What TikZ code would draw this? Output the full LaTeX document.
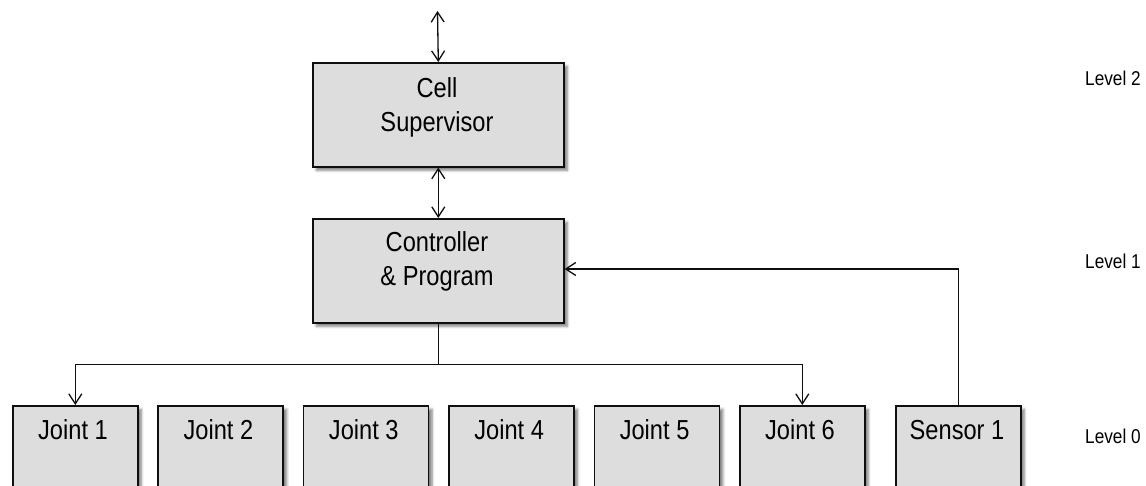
\documentclass[tikz,border=0pt]{standalone}
\usepackage{fontspec}
\setmainfont{Liberation Sans}[FakeStretch=0.86]
\usetikzlibrary{arrows.meta,shadows.blur}
\definecolor{boxfill}{RGB}{221,221,221}
\definecolor{inkline}{RGB}{15,15,15}
\tikzset{
  block/.style={draw=inkline, line width=1.6pt, fill=boxfill, inner sep=0pt,
    minimum width=125pt, minimum height=104pt, anchor=north west,
    blur shadow={shadow xshift=3.5pt, shadow yshift=-3.5pt, shadow blur radius=2.5pt, shadow blur steps=6, shadow opacity=50}},
  blocktext/.style={anchor=base, inner sep=0pt, font=\fontsize{27.5}{34}\selectfont},
  leveltext/.style={anchor=base west, inner sep=0pt, font=\fontsize{20}{24}\selectfont},
  link/.style={draw=inkline, line width=1.3pt},
  barb/.tip={Straight Barb[length=10pt, width=13pt]}
}
\begin{document}
\begin{tikzpicture}[x=1pt, y=-1pt]
\useasboundingbox (0,0) rectangle (1146,486);
\clip (0,0) rectangle (1146,486);

% upper levels
\node[block, minimum width=251pt] (cell) at (312,62) {};
\node[block, minimum width=251pt] (ctrl) at (312,218) {};
\node[blocktext] (cellA) at (437,97.3) {Cell};
\node[blocktext] (cellB) at (437,131.7) {Supervisor};
\node[blocktext] (ctrlA) at (437,252) {Controller};
\node[blocktext] (ctrlB) at (437,285.5) {\&~Program};

% level 0 devices
\foreach \i in {1,...,6}{
  \node[block, minimum height=120pt] (j\i) at ({12+145.4*(\i-1)},405) {};
  \node[blocktext] (jt\i) at ({73+145.4*(\i-1)},439.3) {Joint~\i};
}
\node[block, minimum height=120pt] (s1) at (895,405) {};
\node[blocktext] (st1) at (957,439.3) {Sensor~1};

% level labels
\node[leveltext] (lv2) at (1085,86) {Level 2};
\node[leveltext] (lv1) at (1085,268.3) {Level 1};
\node[leveltext] (lv0) at (1085,443) {Level 0};

% connectors
\coordinate (up) at (437.5,11);
\draw[link, barb-barb] (up) -- (cell.north);
\draw[link, barb-barb] (cell.south) -- (ctrl.north);
\draw[link] (ctrl.south) -- ++(0,41) coordinate (bus);
\draw[link, -barb] (bus) -| (j1.north);
\draw[link, -barb] (bus) -| (j6.north);
\draw[link, -barb] (s1.north) |- (ctrl.east |- 0,269);
\end{tikzpicture}
\end{document}
